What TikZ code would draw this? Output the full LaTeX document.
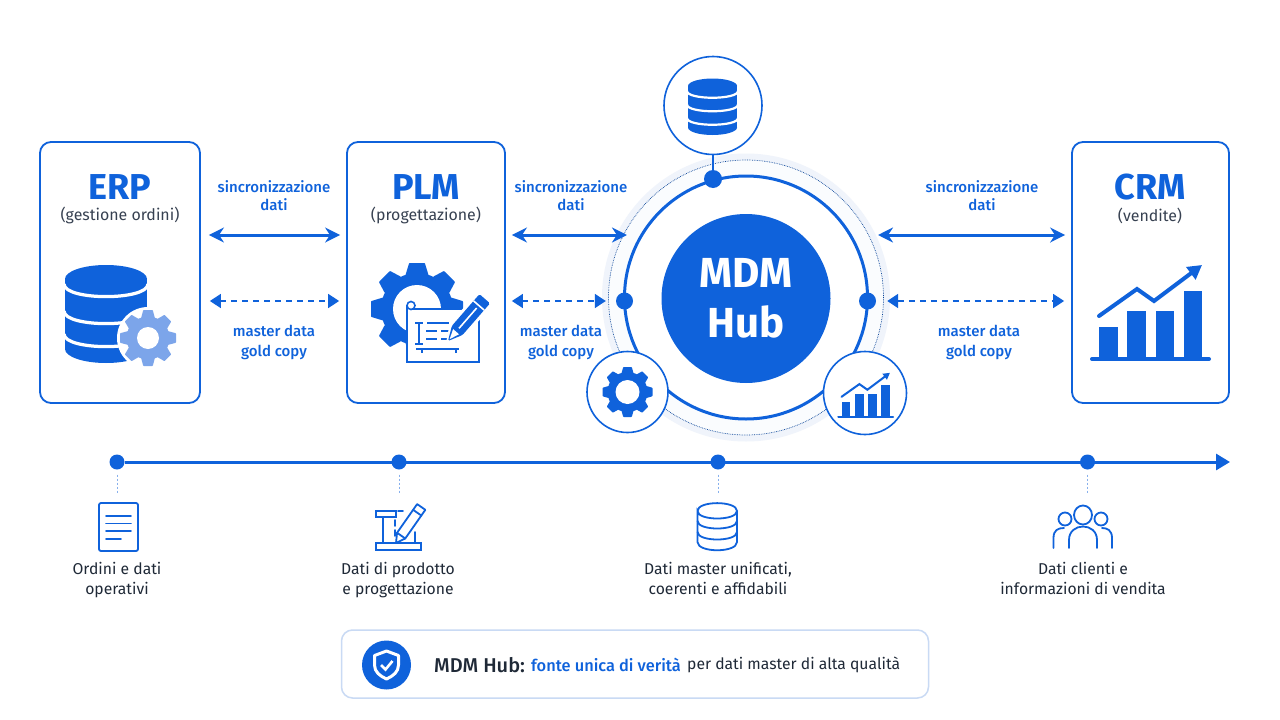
\documentclass[tikz,border=0pt]{standalone}
\usepackage{fontspec}
\setmainfont{Fira Sans}
\newfontfamily\mediumfont{Fira Sans Medium}
\usetikzlibrary{arrows.meta,positioning,calc}
\definecolor{hubA}{HTML}{0F62DB}
\definecolor{hubL}{HTML}{7CA5EA}
\definecolor{hubP}{HTML}{F0F4FB}
\definecolor{hubB}{HTML}{C9DAF4}
\definecolor{inkA}{HTML}{1F2937}
\definecolor{inkB}{HTML}{374151}
\newcommand{\gearicon}[6]{% x, y, outer, root, hole, colour
  \begin{scope}[shift={(#1,#2)}]
    \fill[#6] (0,0) circle[radius=#4];
    \foreach \a in {0,45,...,315}
      \fill[#6,rotate=\a,rounded corners=.6pt] (#4-2,-.25*#3) -- (#3,-.17*#3) -- (#3,.17*#3) -- (#4-2,.25*#3) -- cycle;
    \fill[white] (0,0) circle[radius=#5];
  \end{scope}}
\newcommand{\dbfill}[6]{% x, top y, rx, ry, bottom y, gaps
  \fill[hubA] (#1,#2) circle[x radius=#3,y radius=#4];
  \fill[hubA] (#1,#5) circle[x radius=#3,y radius=#4];
  \fill[hubA] (#1-#3,#2) rectangle (#1+#3,#5);
  \foreach \g in {#6}
    \draw[white,line width=.16*#4+1pt] (#1-#3-1,\g) .. controls (#1-#3-1,\g+1.2*#4) and (#1+#3+1,\g+1.2*#4) .. (#1+#3+1,\g);}
\newcommand{\charticon}[4]{% x, y, scale, line width
  \begin{scope}[shift={(#1,#2)},scale=#3]
    \foreach \l/\r/\t in {-51/-32/-32,-23/-4/-48,6/24/-48,34/52/-68}
      \fill[hubA] (\l,0) rectangle (\r,\t);
    \draw[hubA,line width=#4,line cap=round] (-58,0) -- (59,0);
    \draw[hubA,line width=#4,line cap=round,-{Triangle[length=14*#3,width=15*#3]}] (-51,-43) -- (-13,-70) -- (4,-58) -- (52,-94);
  \end{scope}}
\newcommand{\pencilfill}[5]{% tip x, tip y, angle, length, width
  \begin{scope}[shift={(#1,#2)},rotate=#3]
    \fill[white,rounded corners=2pt] (-3,0) -- (.25*#4,-.5*#5-3) -- (#4+3,-.5*#5-3) -- (#4+3,.5*#5+3) -- (.25*#4,.5*#5+3) -- cycle;
    \fill[hubA,rounded corners=1.5pt] (0,0) -- (.25*#4,-.5*#5) -- (#4,-.5*#5) -- (#4,.5*#5) -- (.25*#4,.5*#5) -- cycle;
    \fill[white] (2.5,0) -- (.22*#4,-.28*#5) -- (.22*#4,.28*#5) -- cycle;
    \draw[white,line width=1.6pt] (.3*#4,0) -- (.78*#4,0) (.84*#4,-.5*#5) -- (.84*#4,.5*#5);
  \end{scope}}
\tikzset{
  sysbox/.style={draw=hubA,line width=1.8pt,rounded corners=11pt,fill=white,minimum height=261pt},
  systitle/.style={text=hubA,font=\fontsize{36}{40}\selectfont\bfseries},
  syssub/.style={text=inkB,font=\fontsize{15.9}{20}\selectfont},
  linklabel/.style={text=hubA,align=center,font=\fontsize{15}{20}\selectfont\mediumfont},
  caplabel/.style={text=inkA,align=center,font=\fontsize{15.7}{20}\selectfont},
  syncarr/.style={hubA,line width=3pt,{Stealth[length=15pt,width=15pt]}-{Stealth[length=15pt,width=15pt]}},
  goldarr/.style={hubA,line width=1.8pt,dash pattern=on 6pt off 5pt,{Triangle[length=11pt,width=14pt]}-{Triangle[length=11pt,width=14pt]}},
  sat/.style={circle,draw=hubA,line width=1.6pt,fill=white,inner sep=0pt},
  hubdot/.style={circle,fill=hubA,inner sep=0pt,minimum size=#1},
  stub/.style={hubA!50,line width=1pt,dash pattern=on 2pt off 2pt},
  thin icon/.style={hubA,line width=1.8pt,line cap=round}
}
\begin{document}
\begin{tikzpicture}[x=1pt,y=-1pt]
  \useasboundingbox (0,0) rectangle (1280,720);
  \fill[white!99!hubP] (0,0) rectangle (1280,720);
  % systems
  \node[sysbox,minimum width=160pt] (erp) at (120,272.5) {};
  \node[sysbox,minimum width=158pt] (plm) at (426,272.5) {};
  \node[sysbox,minimum width=157pt] (crm) at (1150.5,272.5) {};
  \node[systitle] (erpT) at (120,187) {ERP};
  \node[systitle] (plmT) at (426,187) {PLM};
  \node[systitle] (crmT) at (1150,187) {CRM};
  \node[syssub,below=1pt of erpT] (erpS) {(gestione ordini)};
  \node[syssub,below=1pt of plmT] (plmS) {(progettazione)};
  \node[syssub,below=1pt of crmT] (crmS) {(vendite)};
  % hub
  \node[circle,fill=hubP,minimum size=288pt,inner sep=0pt] (halo) at (746,297.5) {};
  \node[circle,draw=hubA!70!black,densely dotted,line width=.7pt,fill=white!70!hubP,minimum size=275pt,inner sep=0pt] (orbit) at (halo) {};
  \node[circle,draw=hubA,line width=3pt,fill=white,minimum size=243pt,inner sep=0pt] (ring) at (halo) {};
  \node[circle,fill=hubA,minimum size=169pt,inner sep=0pt,text=white,align=center,
    font=\fontsize{42}{50}\selectfont\bfseries] (hub) at (746,298.5) {MDM\\Hub};
  \node[sat,minimum size=98pt] (topDb) at (713,105.5) {};
  \node[hubdot=18pt] (dotT) at (713,179) {};
  \node[hubdot=17pt] (dotL) at (624.5,301) {};
  \node[hubdot=17pt] (dotR) at (867.5,301) {};
  \node[sat,minimum size=81pt] (satG) at (627.5,392) {};
  \node[sat,minimum size=83pt] (satC) at (865,393) {};
  \draw[hubA,line width=2pt] (topDb) -- (dotT);
  % links
  \coordinate (rowA) at (0,235);
  \draw[syncarr,shorten <=8pt,shorten >=6pt] (erp.east |- rowA) -- (plm.west |- rowA);
  \draw[syncarr,shorten <=6pt,shorten >=-4pt] (plm.east |- rowA) -- (ring.west |- rowA);
  \draw[syncarr,shorten <=9pt,shorten >=6pt] (ring.east |- rowA) -- (crm.west |- rowA);
  \draw[goldarr,shorten <=9pt,shorten >=7pt] (erp.east |- dotL) -- (plm.west |- dotL);
  \draw[goldarr,shorten <=6pt,shorten >=10pt] (plm.east |- dotL) -- (dotL);
  \draw[goldarr,shorten <=11pt,shorten >=7pt] (dotR) -- (crm.west |- dotR);
  \node[linklabel] (syA) at (274,196) {sincronizzazione\\[-2pt]dati};
  \node[linklabel] (syB) at (571,196) {sincronizzazione\\[-2pt]dati};
  \node[linklabel] (syC) at (982,196) {sincronizzazione\\[-2pt]dati};
  \node[linklabel] (goA) at (274,342) {master data\\gold copy};
  \node[linklabel] (goB) at (561,342) {master data\\gold copy};
  \node[linklabel] (goC) at (979,342) {master data\\gold copy};
  % big icons
  \dbfill{106}{279}{41}{14}{349}{284,311,334}
  \fill[white] (148,338) circle[radius=31];
  \gearicon{148}{338}{28}{21.5}{11}{hubL}
  \gearicon{417}{309}{46}{36}{24}{hubA}
  \fill[white] (408,308) rectangle (479,362);
  \draw[hubA,line width=1.8pt] (407,305) -- (407,362) -- (479,362) -- (479,320);
  \draw[hubA,line width=1.8pt] (411,309) -- (463,309);
  \draw[hubA,line width=1.6pt,fill=white] (411,305.5) circle[radius=4];
  \draw[hubA,line width=1.6pt] (419,322) -- (419,343) (415,323) -- (423,323) (415,344) -- (423,344);
  \draw[hubA,line width=1.6pt] (427,323) -- (449,323) (426,331) -- (437,331) (441,331) -- (452,331) (426,339) -- (437,339) (441,339) -- (449,339);
  \draw[hubA,line width=1.6pt] (416,349) -- (459,349) (422,349) -- (422,353) (456,349) -- (456,353);
  \pencilfill{448}{341}{49}{56}{14}
  \charticon{1150}{359}{1}{4pt}
  \dbfill{712.5}{86}{24.5}{7.5}{127.5}{91,104.5,118}
  \gearicon{627.5}{392}{25}{20}{12}{hubA}
  \charticon{865.5}{417}{.47}{2pt}
  % timeline
  \node[hubdot=15pt] (tA) at (117,462) {};
  \node[hubdot=15pt] (tB) at (399,462) {};
  \node[hubdot=15pt] (tC) at (718,462) {};
  \node[hubdot=15pt] (tD) at (1087.5,462) {};
  \coordinate (axisEnd) at (1230,462);
  \draw[hubA,line width=3pt,-{Triangle[length=14pt,width=16pt]}] (tA) -- (axisEnd);
  \foreach \n/\x in {A/117,B/399,C/718,D/1087.5}{
    \coordinate (stub\n) at (\x,493);
    \draw[stub,shorten <=5pt] (t\n) -- (stub\n);
  }
  \node[caplabel] (capA) at (117,580) {Ordini e dati\\operativi};
  \node[caplabel] (capB) at (398,580) {Dati di prodotto\\e progettazione};
  \node[caplabel] (capC) at (718,578) {Dati master unificati,\\coerenti e affidabili};
  \node[caplabel] (capD) at (1083,578) {Dati clienti e\\informazioni di vendita};
  % small icons
  \draw[thin icon,rounded corners=2pt] (99,503) rectangle (138,551);
  \draw[thin icon] (106,516) -- (131,516) (106,523.5) -- (131,523.5) (106,531) -- (131,531) (106,539) -- (121,539);
  \draw[thin icon] (376,511) rectangle (396,517) (376,543) rectangle (421,550);
  \draw[thin icon] (398,511) -- (403,511) (383,517) -- (383,543) (415,532) -- (415,543) (395,520) -- (395,526) (395,530) -- (395,536) (399,543) -- (404,543) (408,543) -- (413,543);
  \begin{scope}[shift={(396,543)},rotate=55]
    \draw[thin icon,line join=round,fill=white] (0,0) -- (9,-5) -- (44,-5) -- (44,5) -- (9,5) -- cycle;
    \draw[thin icon] (37,-5) -- (37,5) (9,-5) -- (9,5);
  \end{scope}
  \begin{scope}[thin icon]
    \draw (697.5,511) .. controls (697.5,500.5) and (737,500.5) .. (737,511) .. controls (737,521) and (697.5,521) .. (697.5,511) -- (697.5,542) .. controls (697.5,553) and (737,553) .. (737,542) -- (737,511);
    \draw (697.5,521) .. controls (697.5,531) and (737,531) .. (737,521) (697.5,532) .. controls (697.5,542) and (737,542) .. (737,532);
    \draw (1083,515) circle[x radius=9,y radius=9.5] (1065,519) circle[radius=6.5] (1101,519) circle[radius=6.5];
    \draw (1069,548) -- (1069,540) .. controls (1069,522) and (1097,522) .. (1097,540) -- (1097,548);
    \draw (1053.5,548) -- (1053.5,538) .. controls (1053.5,530) and (1058,528) .. (1064,528);
    \draw (1112,548) -- (1112,538) .. controls (1112,530) and (1107,528) .. (1102,528);
  \end{scope}
  % footer
  \node[draw=hubB,line width=1.5pt,rounded corners=11pt,fill=white,minimum width=587pt,minimum height=68pt] (note) at (635,664) {};
  \node[circle,fill=hubA,minimum size=49pt,inner sep=0pt] (noteI) at (386.5,665) {};
  \draw[white,line width=3pt,line join=round] (386.5,651) -- (398.5,655.5) -- (398.5,665) .. controls (398.5,672) and (393,676) .. (386.5,679) .. controls (380,676) and (374.5,672) .. (374.5,665) -- (374.5,655.5) -- cycle;
  \draw[white,line width=2.6pt] (381,665) -- (385.5,669.5) -- (392.5,661);
  \node[anchor=west,inner sep=0pt,text=inkA,font=\fontsize{20}{24}\selectfont\mediumfont] (noteA) at (434,665) {MDM Hub:};
  \node[anchor=west,inner sep=0pt,text=hubA,font=\fontsize{16.4}{20}\selectfont\mediumfont] (noteB) at (531,665) {fonte unica di verità};
  \node[anchor=west,inner sep=0pt,text=inkA,font=\fontsize{15.7}{20}\selectfont] (noteC) at (687,665) {per dati master di alta qualità};
\end{tikzpicture}
\end{document}
